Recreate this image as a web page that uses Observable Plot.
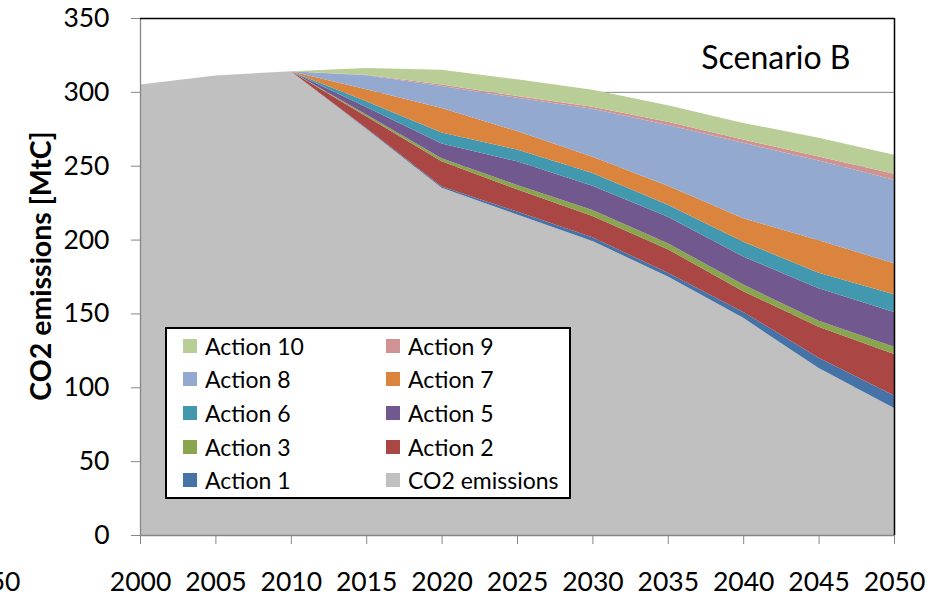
<!DOCTYPE html>
<html>
<head>
<meta charset="utf-8">
<script src="https://cdn.jsdelivr.net/npm/d3@7"></script>
<script src="https://cdn.jsdelivr.net/npm/@observablehq/plot@0.6"></script>
<style>
  html, body { margin: 0; padding: 0; background: #fff; }
  #wrap { position: relative; width: 941px; height: 597px; overflow: hidden; font-family: Lato, "Open Sans", sans-serif; }
  #legend {
    position: absolute; left: 165px; top: 327px; width: 406px;
    box-sizing: border-box; border: 2px solid #000; background: #fff;
    display: grid; grid-template-columns: 203px 183px; grid-auto-rows: 33.6px;
    padding-left: 16px; padding-top: 0px; padding-bottom: 0px;
    font-size: 23px; color: #000;
  }
  .item { display: flex; align-items: center; white-space: nowrap; }
  .sw { width: 14px; height: 14px; margin-right: 8px; flex: none; }
  #ytitle {
    position: absolute; left: 40px; top: 266px;
    transform: translate(-50%, -50%) rotate(-90deg);
    font-weight: bold; font-size: 28.5px; color: #000; white-space: nowrap;
  }
</style>
</head>
<body>
<div id="wrap"></div>
<script>
// ---- data ----
const years = [2000, 2005, 2010, 2015, 2020, 2025, 2030, 2035, 2040, 2045, 2050];
const co2Emissions = [305, 311, 314, 275, 235, 217, 199, 175, 147, 113, 86];
const action1  = [0, 0, 0, 0.5, 1,   2,    2.5,  2.5,  4,    7,    8.5];
const action2  = [0, 0, 0, 8,   17,  15,   14.5, 16,   14,   21,   28];
const action3  = [0, 0, 0, 1.2, 2,   3,    4,    4,    4.5,  4,    5];
const action5  = [0, 0, 0, 5,   10,  16,   16.5, 18,   19,   22,   23.5];
const action6  = [0, 0, 0, 4,   7.5, 8,    8.5,  8,    10,   10.5, 12];
const action7  = [0, 0, 0, 8,   16.5,12.5, 11,   13,   16,   22,   21];
const action8  = [0, 0, 0, 9.5, 15,  22.5, 32.5, 41,   51,   54,   56.5];
const action9  = [0, 0, 0, 0.3, 1,   1.2,  1.5,  2.2,  2.2,  2.7,  4];
const action10 = [0, 0, 0, 4.7, 10,  11.3, 11.5, 11.2, 11.3, 12.8, 13];

const seriesNames = ["CO2 emissions", "Action 1", "Action 2", "Action 3", "Action 5", "Action 6", "Action 7", "Action 8", "Action 9", "Action 10"];
const seriesValues = [co2Emissions, action1, action2, action3, action5, action6, action7, action8, action9, action10];
const seriesColors = ["#C0C0C0", "#4572A7", "#AA4643", "#89A54E", "#71588F", "#4198AF", "#DB843D", "#93A9CF", "#D19392", "#B9CD96"];

const yTicks = [0, 50, 100, 150, 200, 250, 300, 350];
const gridTicks = [50, 100, 150, 200, 250, 300];
const strayLabels = [{year: 1990, text: "1950"}];
const yTitle = "CO2 emissions [MtC]";
const chartTitle = "Scenario B";

// tidy table for the stack
const tidy = [];
seriesNames.forEach((name, i) => {
  years.forEach((yr, j) => tidy.push({series: name, year: yr, value: seriesValues[i][j]}));
});

const axisGray = "#868686";
const fontSize = 26.5;

const chart = Plot.plot({
  width: 941,
  height: 597,
  marginLeft: 140,
  marginRight: 47,
  marginTop: 18,
  marginBottom: 62,
  style: {fontFamily: "Lato, 'Open Sans', sans-serif", fontSize: fontSize + "px", background: "#fff", color: "#000"},
  x: {domain: [2000, 2050], label: null},
  y: {domain: [0, 350], label: null},
  color: {domain: seriesNames, range: seriesColors, legend: false},
  marks: [
    Plot.gridY(gridTicks, {stroke: axisGray, strokeOpacity: 1, strokeWidth: 1}),
    Plot.areaY(tidy, {x: "year", y: "value", z: "series", fill: "series"}),
    Plot.ruleY([0], {stroke: axisGray, strokeWidth: 1.3}),
    Plot.ruleX([2000], {stroke: axisGray, strokeWidth: 1.3}),
    Plot.ruleY([350], {stroke: "#000", strokeWidth: 1.3}),
    Plot.ruleX([2050], {stroke: "#000", strokeWidth: 1.5}),
    Plot.axisX({ticks: years, tickFormat: d => String(d), tickSize: 9, tickPadding: 27.5, stroke: axisGray, fill: "#000", fontSize: fontSize, label: null}),
    Plot.axisY({ticks: yTicks, tickFormat: d => String(d), tickSize: 9, tickPadding: 22, stroke: axisGray, fill: "#000", fontSize: fontSize, label: null}),
    Plot.text(strayLabels, {x: "year", text: "text", frameAnchor: "bottom", lineAnchor: "top", dy: 36.5, fontSize: fontSize, fill: "#000"}),
    Plot.text([chartTitle], {frameAnchor: "top-right", textAnchor: "end", lineAnchor: "bottom", dx: -44, dy: 50, fontSize: 32, fill: "#000"})
  ]
});

const wrap = document.getElementById("wrap");
wrap.appendChild(chart);

// y-axis title
const yt = document.createElement("div");
yt.id = "ytitle";
yt.textContent = yTitle;
wrap.appendChild(yt);

// legend (overlay inside plot area), reverse stack order, row-major
const legend = document.createElement("div");
legend.id = "legend";
const order = seriesNames.map((n, i) => i).reverse();
order.forEach(i => {
  const item = document.createElement("div");
  item.className = "item";
  const sw = document.createElement("span");
  sw.className = "sw";
  sw.style.background = seriesColors[i];
  const lab = document.createElement("span");
  lab.textContent = seriesNames[i];
  item.appendChild(sw);
  item.appendChild(lab);
  legend.appendChild(item);
});
wrap.appendChild(legend);
</script>
</body>
</html>
